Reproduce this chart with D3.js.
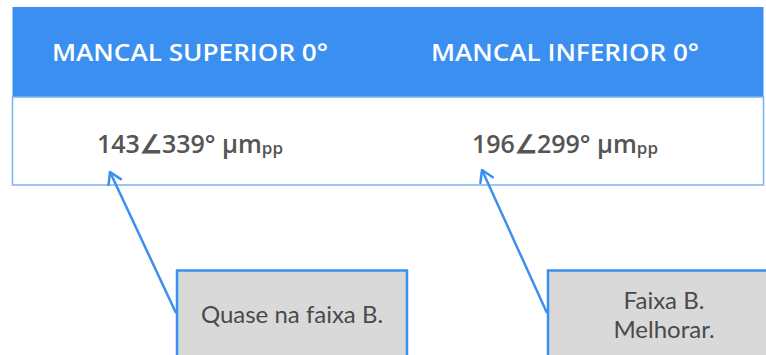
<!DOCTYPE html>
<html><head><meta charset="utf-8">
<script src="https://cdn.jsdelivr.net/npm/d3@7"></script>
<style>html,body{margin:0;padding:0;background:#fff;}</style>
</head><body>
<svg id="c" width="766" height="355"></svg>
<script>
const columns = ["MANCAL SUPERIOR 0°", "MANCAL INFERIOR 0°"];
const amplitudes = [143, 196];
const phases = [339, 299];
const unit = "µm";
const unitSub = "pp";
const notes = [["Quase na faixa B."], ["Faixa B.", "Melhorar."]];

const W = 766, H = 355;
const svg = d3.select("#c");
const blue = "#3b8ff0";
const x = d3.scalePoint().domain(d3.range(columns.length)).range([190, 565]);
const table = {x0: 12.5, x1: 763.5, y0: 7, yh: 97, y1: 185};

// header
svg.append("rect").attr("x", table.x0).attr("y", table.y0)
  .attr("width", table.x1 - table.x0).attr("height", table.yh - table.y0).attr("fill", blue);
// body border
svg.append("rect").attr("x", table.x0).attr("y", table.yh)
  .attr("width", table.x1 - table.x0).attr("height", table.y1 - table.yh)
  .attr("fill", "#fff").attr("stroke", "#79b2f2").attr("stroke-width", 1.5);

const hw = [276, 268];
svg.selectAll("text.h").data(columns).join("text").attr("class", "h")
  .attr("x", (d, i) => x(i)).attr("y", 61).attr("text-anchor", "middle")
  .attr("font-family", "Open Sans").attr("font-weight", 600).attr("font-size", 24)
  .attr("fill", "#fff")
  .attr("textLength", (d, i) => hw[i]).attr("lengthAdjust", "spacingAndGlyphs")
  .text(d => d);

const vals = svg.selectAll("text.v").data(amplitudes).join("text").attr("class", "v")
  .attr("x", (d, i) => x(i)).attr("y", 153).attr("text-anchor", "middle")
  .attr("font-family", "Open Sans").attr("font-weight", 600).attr("font-size", 25)
  .attr("fill", "#555");
vals.append("tspan").text(d => d);
vals.append("tspan").text("∠");
vals.append("tspan").text((d, i) => phases[i] + "° " + unit);
vals.append("tspan").attr("font-size", 17).attr("dy", 1).text(unitSub);

// note boxes
const boxes = [{x: 177, w: 230}, {x: 548, w: 232}];
const by = 270.5;
svg.selectAll("rect.n").data(notes).join("rect").attr("class", "n")
  .attr("x", (d, i) => boxes[i].x).attr("y", by)
  .attr("width", (d, i) => boxes[i].w).attr("height", 100)
  .attr("fill", "#d9d9d9").attr("stroke", blue).attr("stroke-width", 2.5);

notes.forEach((lines, i) => {
  const cx = boxes[i].x + boxes[i].w / 2;
  const y0 = lines.length === 1 ? 323 : 309;
  svg.append("text").attr("x", cx).attr("y", y0).attr("text-anchor", "middle")
    .attr("font-family", "Lato").attr("font-size", 24).attr("fill", "#4a4a4a")
    .selectAll("tspan").data(lines).join("tspan")
    .attr("x", cx).attr("dy", (d, j) => j ? 29 : 0).text(d => d);
});

// arrows
const arrows = [{from: [176, 313], to: [110, 172]}, {from: [547, 313], to: [482, 170]}];
arrows.forEach(a => {
  svg.append("line").attr("x1", a.from[0]).attr("y1", a.from[1])
    .attr("x2", a.to[0]).attr("y2", a.to[1])
    .attr("stroke", blue).attr("stroke-width", 2.5);
  const ang = Math.atan2(a.from[1] - a.to[1], a.from[0] - a.to[0]);
  const L = 13, s = 0.55;
  const p1 = [a.to[0] + L * Math.cos(ang - s), a.to[1] + L * Math.sin(ang - s)];
  const p2 = [a.to[0] + L * Math.cos(ang + s), a.to[1] + L * Math.sin(ang + s)];
  svg.append("path").attr("d", d3.line()([p1, a.to, p2]))
    .attr("fill", "none").attr("stroke", blue).attr("stroke-width", 2.5)
    .attr("stroke-linecap", "round").attr("stroke-linejoin", "round");
});
</script>
</body></html>
